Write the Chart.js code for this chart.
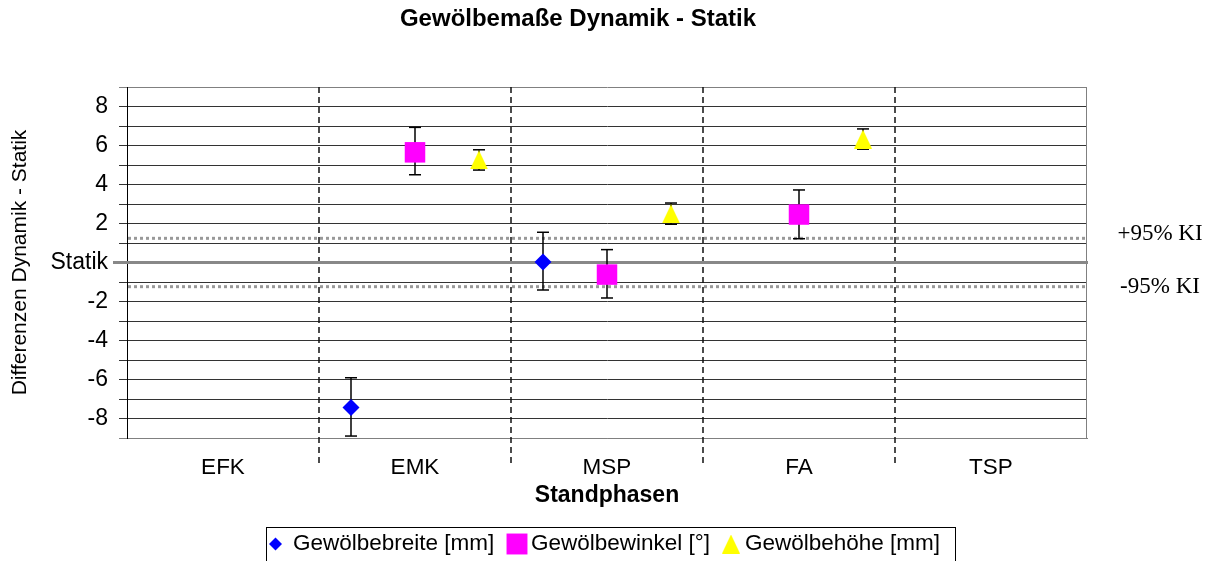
<!DOCTYPE html>
<html>
<head>
<meta charset="utf-8">
<script src="https://cdn.jsdelivr.net/npm/chart.js@4.4.1/dist/chart.umd.min.js"></script>
<style>
  html, body { margin: 0; padding: 0; background: #fff; }
  #wrap { width: 1213px; height: 561px; position: relative; }
</style>
</head>
<body>
<div id="wrap"><canvas id="chart"></canvas></div>
<script>
// Standphasen on the x axis
const categories = ["EFK", "EMK", "MSP", "FA", "TSP"];
const seriesNames = ["Gewölbebreite [mm]", "Gewölbewinkel [°]", "Gewölbehöhe [mm]"];

// mean difference dynamic - static, with upper / lower end of the error bar
const breite   = [null, -7.43, 0.03, null, null];
const breiteHi = [null, -5.91, 1.55, null, null];
const breiteLo = [null, -8.90, -1.41, null, null];

const winkel   = [null, 5.65, -0.62, 2.46, null];
const winkelHi = [null, 6.93, 0.66, 3.72, null];
const winkelLo = [null, 4.50, -1.82, 1.22, null];

const hoehe   = [null, 5.26, 2.49, 6.33, null];
const hoeheHi = [null, 5.78, 3.05, 6.85, null];
const hoeheLo = [null, 4.74, 1.96, 5.81, null];

// confidence band around the static reference
const kiUpper = 1.24;
const kiLower = -1.24;
const yLabels = [-8, -6, -4, -2, 0, 2, 4, 6, 8];

Chart.defaults.font.family = '"Liberation Sans", Arial, sans-serif';
Chart.defaults.color = "#000";

// isosceles triangle like the office marker
function triangleMarker(w, h) {
  const c = document.createElement("canvas");
  c.width = w; c.height = h;
  const g = c.getContext("2d");
  g.fillStyle = "#ffff00";
  g.beginPath();
  g.moveTo(w / 2, 0);
  g.lineTo(w, h);
  g.lineTo(0, h);
  g.closePath();
  g.fill();
  return c;
}

const series = [
  { label: seriesNames[0], values: breite, hi: breiteHi, lo: breiteLo, color: "#0000ff", style: "rectRot", radius: 8.5, shift: -1 / 3, legendRadius: 6.5, legendX: 275.5, textX: 293 },
  { label: seriesNames[1], values: winkel, hi: winkelHi, lo: winkelLo, color: "#ff00ff", style: "rect", radius: 14.5, shift: 0, legendRadius: 14.8, legendX: 517, textX: 531 },
  { label: seriesNames[2], values: hoehe, hi: hoeheHi, lo: hoeheLo, color: "#ffff00", style: triangleMarker(18, 19), radius: 9, shift: 1 / 3, legendRadius: 9, legendX: 731, textX: 745 },
];

function line(ctx, x1, y1, x2, y2) {
  ctx.beginPath();
  ctx.moveTo(x1, y1);
  ctx.lineTo(x2, y2);
  ctx.stroke();
}

const decorations = {
  id: "decorations",
  beforeDatasetsDraw(chart) {
    const { ctx, chartArea: a, scales: { x, y } } = chart;
    ctx.save();

    // right frame edge
    ctx.strokeStyle = "#808080";
    ctx.lineWidth = 1;
    line(ctx, a.right - 0.5, a.top, a.right - 0.5, a.bottom);

    // phase separators, running down into the label row
    ctx.strokeStyle = "#111";
    ctx.lineWidth = 1.5;
    ctx.setLineDash([6, 4]);
    for (let i = 0; i < categories.length - 1; i++) {
      const px = Math.round(x.getPixelForValue(i + 0.5));
      line(ctx, px, a.top, px, a.bottom + 27);
    }

    // +/- 95% KI
    ctx.strokeStyle = "#999";
    ctx.lineWidth = 3;
    ctx.setLineDash([3, 3]);
    [kiUpper, kiLower].forEach(v => {
      const py = y.getPixelForValue(v);
      line(ctx, a.left + 1, py, a.right - 1, py);
    });

    // Statik reference
    ctx.setLineDash([]);
    ctx.strokeStyle = "#888";
    ctx.lineWidth = 3;
    const y0 = y.getPixelForValue(0);
    line(ctx, a.left - 14, y0, a.right + 1, y0);

    ctx.fillStyle = "#000";
    ctx.font = '23px "Liberation Serif", "Times New Roman", serif';
    ctx.textAlign = "center";
    ctx.textBaseline = "middle";
    ctx.fillText("+95% KI", 1160, y.getPixelForValue(kiUpper) - 4);
    ctx.fillText("-95% KI", 1160, y.getPixelForValue(kiLower) + 0);

    // error bars
    ctx.strokeStyle = "#000";
    ctx.lineWidth = 1.5;
    series.forEach(s => {
      s.values.forEach((v, i) => {
        if (v === null) return;
        const px = x.getPixelForValue(i + s.shift);
        const top = y.getPixelForValue(s.hi[i]);
        const bot = y.getPixelForValue(s.lo[i]);
        line(ctx, px, top, px, bot);
        line(ctx, px - 6, top, px + 6, top);
        line(ctx, px - 6, bot, px + 6, bot);
      });
    });
    ctx.restore();
  },
  afterDraw(chart) {
    const { ctx } = chart;
    ctx.save();

    // title
    ctx.fillStyle = "#000";
    ctx.font = 'bold 24px "Liberation Sans", Arial, sans-serif';
    ctx.textAlign = "center";
    ctx.textBaseline = "middle";
    ctx.fillText("Gewölbemaße Dynamik - Statik", 578, 19);

    // legend box
    const box = { left: 266, right: 955, top: 527, bottom: 562 };
    ctx.strokeStyle = "#000";
    ctx.lineWidth = 1;
    ctx.strokeRect(box.left + 0.5, box.top + 0.5, box.right - box.left, box.bottom - box.top);

    ctx.font = '22.5px "Liberation Sans", Arial, sans-serif';
    ctx.textAlign = "left";
    const cy = 544;
    series.forEach(s => {
      ctx.fillStyle = s.color;
      Chart.helpers.drawPoint(ctx, { pointStyle: s.style, radius: s.legendRadius, rotation: 0, borderWidth: 0 }, s.legendX, cy);
      ctx.fillStyle = "#000";
      ctx.fillText(s.label, s.textX, cy);
    });
    ctx.restore();
  }
};

new Chart(document.getElementById("chart"), {
  type: "scatter",
  data: {
    datasets: series.map(s => ({
      label: s.label,
      data: s.values.map((v, i) => v === null ? null : { x: i + s.shift, y: v }).filter(p => p),
      pointStyle: s.style,
      pointRadius: s.radius,
      pointHoverRadius: s.radius,
      backgroundColor: s.color,
      borderColor: s.color,
      borderWidth: 0,
    })),
  },
  options: {
    responsive: true,
    maintainAspectRatio: false,
    animation: false,
    layout: { padding: { left: 0, right: 126, top: 87, bottom: 0 } },
    plugins: { legend: { display: false }, title: { display: false }, tooltip: { enabled: false } },
    scales: {
      x: {
        type: "linear",
        min: -0.5,
        max: 4.5,
        afterBuildTicks: s => { s.ticks = categories.map((c, i) => ({ value: i })); },
        afterFit: s => { s.height = 123; },
        ticks: { callback: v => categories[v], font: { size: 22.5 }, color: "#000", padding: 16, autoSkip: false, maxRotation: 0 },
        grid: { display: false, drawTicks: false },
        border: { display: true, color: "#808080", width: 1 },
        title: { display: true, text: "Standphasen", font: { size: 23, weight: "bold" }, color: "#000", padding: { bottom: 52 } },
      },
      y: {
        min: -9,
        max: 9,
        afterBuildTicks: s => { s.ticks = []; for (let v = -9; v <= 9; v++) s.ticks.push({ value: v }); },
        afterFit: s => { s.width = 127; },
        ticks: {
          autoSkip: false,
          font: { size: 23 },
          color: "#000",
          padding: 11,
          callback: v => v === 0 ? "Statik" : (yLabels.includes(v) ? String(v) : ""),
        },
        grid: {
          color: c => (c.tick && Math.abs(c.tick.value) === 9) ? "#808080" : "#333",
          lineWidth: 1,
          tickLength: 8,
        },
        border: { display: true, color: "#000", width: 1 },
        title: { display: true, text: "Differenzen Dynamik - Statik", font: { size: 21 }, color: "#000", padding: { top: 8 } },
      },
    },
  },
  plugins: [decorations],
});
</script>
</body>
</html>
